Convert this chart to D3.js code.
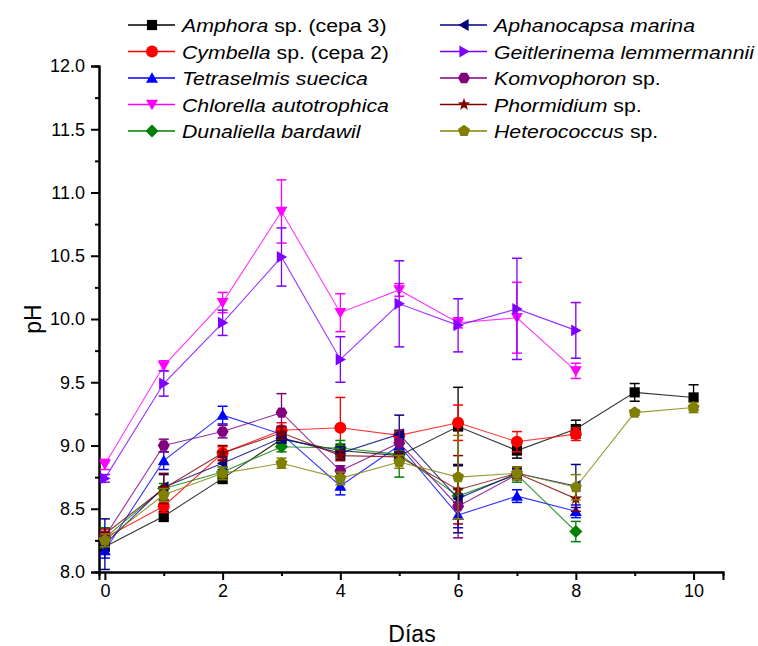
<!DOCTYPE html>
<html><head><meta charset="utf-8">
<script src="https://cdn.jsdelivr.net/npm/d3@7"></script>
<style>body{margin:0;background:#fff;} text{font-family:Arial,"Liberation Sans",sans-serif;}</style>
</head><body>
<svg id="c" width="758" height="646"></svg>
<script>
// ---- data ----
const dayTicks = [0, 2, 4, 6, 8, 10];
const phTicks = [8.0, 8.5, 9.0, 9.5, 10.0, 10.5, 11.0, 11.5, 12.0];

const amphoraDays = [0,1,2,3,4,5,6,7,8,9,10];
const amphoraPH   = [8.20,8.44,8.74,9.05,8.96,8.92,9.15,8.96,9.13,9.42,9.38];
const amphoraErr  = [0.06,0.04,0.04,0.05,0.05,0.05,0.31,0.06,0.07,0.07,0.10];

const cymbellaDays = [0,1,2,3,4,5,6,7,8];
const cymbellaPH   = [8.27,8.52,8.94,9.12,9.14,9.08,9.18,9.03,9.09];
const cymbellaErr  = [0.05,0.05,0.05,0.06,0.24,0.04,0.14,0.08,0.05];

const tetraDays = [0,1,2,3,4,5,6,7,8];
const tetraPH   = [8.17,8.88,9.24,9.09,8.68,9.00,8.45,8.60,8.48];
const tetraErr  = [0.06,0.07,0.07,0.06,0.07,0.05,0.10,0.05,0.05];

const chlorellaDays = [0,1,2,3,4,5,6,7,8];
const chlorellaPH   = [8.85,9.63,10.13,10.85,10.05,10.23,9.97,10.01,9.59];
const chlorellaErr  = [0.04,0.04,0.08,0.25,0.15,0.05,0.04,0.28,0.06];

const dunaDays = [0,1,2,3,4,5,6,7,8];
const dunaPH   = [8.27,8.66,8.79,8.99,8.98,8.93,8.60,8.77,8.32];
const dunaErr  = [0.08,0.04,0.04,0.04,0.06,0.18,0.05,0.06,0.08];

const aphanoDays = [0,1,2,3,4,5,6,7,8];
const aphanoPH   = [8.22,8.67,8.86,9.06,8.94,9.09,8.58,8.78,8.68];
const aphanoErr  = [0.20,0.10,0.05,0.04,0.05,0.15,0.27,0.04,0.17];

const geitDays = [0,1,2,3,4,5,6,7,8];
const geitPH   = [8.74,9.49,9.97,10.49,9.68,10.12,9.95,10.08,9.91];
const geitErr  = [0.03,0.10,0.10,0.23,0.18,0.34,0.21,0.40,0.22];

const komvoDays = [0,1,2,3,4,5,6,7];
const komvoPH   = [8.28,9.00,9.11,9.26,8.80,9.02,8.52,8.77];
const komvoErr  = [0.04,0.05,0.05,0.15,0.04,0.10,0.25,0.04];

const phormDays = [0,1,2,3,4,5,6,7,8];
const phormPH   = [8.30,8.66,8.94,9.10,8.92,8.91,8.65,8.78,8.58];
const phormErr  = [0.04,0.12,0.06,0.05,0.04,0.04,0.27,0.05,0.10];

const heteroDays = [0,1,2,3,4,5,6,7,8,9,10];
const heteroPH   = [8.25,8.61,8.78,8.86,8.74,8.87,8.75,8.78,8.67,9.26,9.30];
const heteroErr  = [0.05,0.05,0.05,0.04,0.05,0.05,0.33,0.05,0.10,0.02,0.04];

const seriesNames = [
  [["Amphora",true],[" sp. (cepa 3)",false]],
  [["Cymbella",true],[" sp. (cepa 2)",false]],
  [["Tetraselmis suecica",true]],
  [["Chlorella autotrophica",true]],
  [["Dunaliella bardawil",true]],
  [["Aphanocapsa marina",true]],
  [["Geitlerinema lemmermannii",true]],
  [["Komvophoron",true],[" sp.",false]],
  [["Phormidium",true],[" sp.",false]],
  [["Heterococcus",true],[" sp.",false]]
];
const seriesColors = ["#000000","#ff0000","#0000ff","#ff00ff","#008000","#000080","#8000ff","#800080","#800000","#808000"];
const seriesShapes = ["square","circle","up","down","diamond","left","right","hexagon","star","pentagon"];
const seriesDays = [amphoraDays,cymbellaDays,tetraDays,chlorellaDays,dunaDays,aphanoDays,geitDays,komvoDays,phormDays,heteroDays];
const seriesPH = [amphoraPH,cymbellaPH,tetraPH,chlorellaPH,dunaPH,aphanoPH,geitPH,komvoPH,phormPH,heteroPH];
const seriesErr = [amphoraErr,cymbellaErr,tetraErr,chlorellaErr,dunaErr,aphanoErr,geitErr,komvoErr,phormErr,heteroErr];

// ---- drawing ----
const svg = d3.select("#c");
const x = d3.scaleLinear().domain([-0.1, 10.5]).range([99, 723]);
const y = d3.scaleLinear().domain([8, 12]).range([572, 66]);

function shapePath(shape, r) {
  const poly = pts => "M" + pts.map(p => p[0].toFixed(2) + "," + p[1].toFixed(2)).join("L") + "Z";
  const reg = (n, rad, rot) => d3.range(n).map(i => {
    const a = rot + i * 2 * Math.PI / n;
    return [rad * Math.cos(a), rad * Math.sin(a)];
  });
  switch (shape) {
    case "square": return poly([[-r*0.85,-r*0.85],[r*0.85,-r*0.85],[r*0.85,r*0.85],[-r*0.85,r*0.85]]);
    case "circle": return d3.symbol(d3.symbolCircle, Math.PI * r * r)();
    case "up": return poly(reg(3, r*1.15, -Math.PI/2).map(p=>[p[0],p[1]+r*0.2]));
    case "down": return poly(reg(3, r*1.15, Math.PI/2).map(p=>[p[0],p[1]-r*0.2]));
    case "left": return poly(reg(3, r*1.15, Math.PI).map(p=>[p[0]+r*0.2,p[1]]));
    case "right": return poly(reg(3, r*1.15, 0).map(p=>[p[0]-r*0.2,p[1]]));
    case "diamond": return poly([[0,-r*1.1],[r*1.1,0],[0,r*1.1],[-r*1.1,0]]);
    case "hexagon": return poly(reg(6, r, 0));
    case "pentagon": return poly(reg(5, r*1.05, -Math.PI/2));
    case "star": {
      const pts = d3.range(10).map(i => {
        const a = -Math.PI/2 + i * Math.PI / 5;
        const rr = i % 2 ? r*0.45 : r*1.1;
        return [rr*Math.cos(a), rr*Math.sin(a)];
      });
      return poly(pts);
    }
  }
}

// axes
const yAxis = d3.axisLeft(y).tickValues(phTicks).tickFormat(d3.format(".1f")).tickSize(8).tickPadding(6);
const yMinor = d3.axisLeft(y).tickValues(d3.range(8.25, 12, 0.5)).tickFormat("").tickSize(4);
const xAxis = d3.axisBottom(x).tickValues(dayTicks).tickFormat(d3.format("d")).tickSize(8).tickPadding(4);
const xMinor = d3.axisBottom(x).tickValues([1,3,5,7,9]).tickFormat("").tickSize(4);

function styleAxis(g) {
  g.select(".domain").attr("stroke", "#000").attr("stroke-width", 2);
  g.selectAll(".tick line").attr("stroke", "#000").attr("stroke-width", 2);
  g.selectAll(".tick text").attr("font-size", 18).attr("fill", "#000").attr("font-family", "Arial, 'Liberation Sans', sans-serif");
}
svg.append("g").attr("transform", "translate(99,0)").call(yMinor).call(styleAxis);
svg.append("g").attr("transform", "translate(0,572)").call(xMinor).call(styleAxis);
svg.append("g").attr("transform", "translate(99,0)").call(yAxis).call(styleAxis);
svg.append("g").attr("transform", "translate(0,572)").call(xAxis).call(styleAxis);

svg.append("text").attr("x", 412).attr("y", 642).attr("text-anchor", "middle")
  .attr("font-size", 23).text("Días");
svg.append("text").attr("transform", "translate(41,319) rotate(-90)").attr("text-anchor", "middle")
  .attr("font-size", 23).text("pH");

// series
const plot = svg.append("g");
seriesDays.forEach((days, s) => {
  const col = seriesColors[s];
  const pts = days.map((d, i) => ({d, v: seriesPH[s][i], e: seriesErr[s][i]}));
  const g = plot.append("g");
  g.append("path").attr("d", d3.line().x(p => x(p.d)).y(p => y(p.v))(pts))
    .attr("fill", "none").attr("stroke", col).attr("stroke-width", 1.1).attr("stroke-opacity", 0.8);
  pts.forEach(p => {
    const y1 = y(p.v + p.e), y2 = y(p.v - p.e), cx = x(p.d);
    g.append("line").attr("x1", cx).attr("x2", cx).attr("y1", y1).attr("y2", y2).attr("stroke", col).attr("stroke-width", 1.3);
    [y1, y2].forEach(yy => g.append("line").attr("x1", cx-5).attr("x2", cx+5).attr("y1", yy).attr("y2", yy).attr("stroke", col).attr("stroke-width", 1.5));
  });
  pts.forEach(p => {
    g.append("path").attr("d", shapePath(seriesShapes[s], 6))
      .attr("transform", `translate(${x(p.d)},${y(p.v)})`).attr("fill", col);
  });
});

// legend
const legX = [128, 440], legY0 = 25, legDy = 26.5;
seriesNames.forEach((parts, s) => {
  const col = Math.floor(s / 5), row = s % 5;
  const lx = legX[col], ly = legY0 + row * legDy;
  const g = svg.append("g");
  g.append("line").attr("x1", lx).attr("x2", lx + 47).attr("y1", ly).attr("y2", ly)
    .attr("stroke", seriesColors[s]).attr("stroke-width", 1.3);
  g.append("path").attr("d", shapePath(seriesShapes[s], 6))
    .attr("transform", `translate(${lx + 24},${ly})`).attr("fill", seriesColors[s]);
  const t = g.append("text").attr("transform", `translate(${lx + 54},${ly + 7}) scale(1.12,1)`).attr("font-size", 19);
  parts.forEach(p => t.append("tspan").attr("font-style", p[1] ? "italic" : "normal").text(p[0]));
});
</script>
</body></html>
